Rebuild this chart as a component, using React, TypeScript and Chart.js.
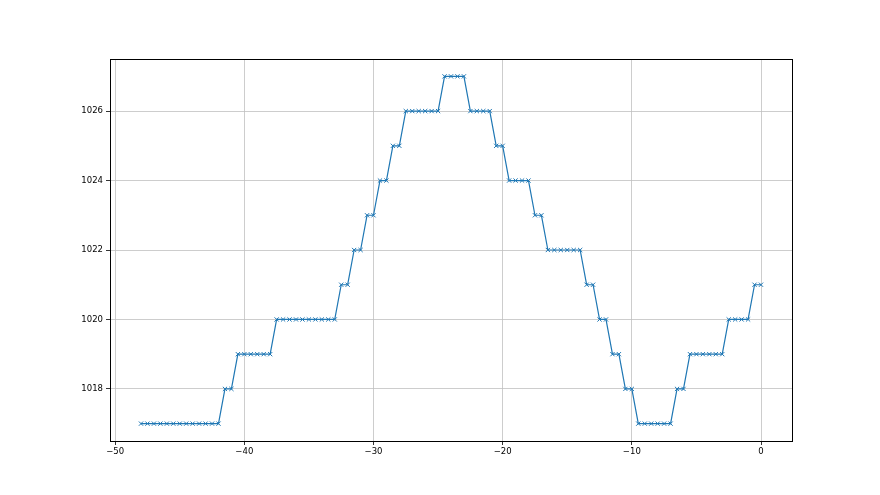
import React, { useEffect, useRef } from "react";
import { Chart, registerables } from "chart.js";

Chart.register(...registerables);

const xValues: number[] = [];
for (let i = 0; i <= 96; i++) xValues.push(-48 + i * 0.5);

const pressure: number[] = [
  1017, 1017, 1017, 1017, 1017, 1017, 1017, 1017, 1017, 1017, 1017, 1017, 1017,
  1018, 1018,
  1019, 1019, 1019, 1019, 1019, 1019,
  1020, 1020, 1020, 1020, 1020, 1020, 1020, 1020, 1020, 1020,
  1021, 1021,
  1022, 1022,
  1023, 1023,
  1024, 1024,
  1025, 1025,
  1026, 1026, 1026, 1026, 1026, 1026,
  1027, 1027, 1027, 1027,
  1026, 1026, 1026, 1026,
  1025, 1025,
  1024, 1024, 1024, 1024,
  1023, 1023,
  1022, 1022, 1022, 1022, 1022, 1022,
  1021, 1021,
  1020, 1020,
  1019, 1019,
  1018, 1018,
  1017, 1017, 1017, 1017, 1017, 1017,
  1018, 1018,
  1019, 1019, 1019, 1019, 1019, 1019,
  1020, 1020, 1020, 1020,
  1021, 1021,
];

const xTicks = [-50, -40, -30, -20, -10, 0];
const yTicks = [1018, 1020, 1022, 1024, 1026];

const framePlugin = {
  id: "frame",
  afterDraw(chart: any) {
    const { ctx, chartArea } = chart;
    ctx.save();
    ctx.strokeStyle = "#000";
    ctx.lineWidth = 1;
    ctx.strokeRect(
      Math.round(chartArea.left) + 0.5,
      Math.round(chartArea.top) + 0.5,
      Math.round(chartArea.right - chartArea.left),
      Math.round(chartArea.bottom - chartArea.top)
    );
    ctx.restore();
  },
};

export default function App() {
  const ref = useRef<HTMLCanvasElement>(null);
  useEffect(() => {
    if (!ref.current) return;
    const chart = new Chart(ref.current, {
      type: "line",
      data: {
        datasets: [
          {
            data: xValues.map((x, i) => ({ x, y: pressure[i] })),
            borderColor: "#1f77b4",
            backgroundColor: "#1f77b4",
            borderWidth: 1.2,
            pointStyle: "crossRot",
            pointRadius: 3,
            pointBorderWidth: 1,
            pointBorderColor: "#1f77b4",
            tension: 0,
            fill: false,
          },
        ],
      },
      options: {
        responsive: false,
        animation: false,
        layout: { padding: { left: 0, top: 59, right: 88, bottom: 0 } },
        plugins: { legend: { display: false }, tooltip: { enabled: false } },
        scales: {
          x: {
            type: "linear",
            min: -50.4,
            max: 2.4,
            afterBuildTicks: (s: any) => {
              s.ticks = xTicks.map((v) => ({ value: v }));
            },
            afterFit: (s: any) => {
              s.height = 54;
            },
            grid: {
              color: "#c0c0c0",
              lineWidth: 0.8,
              tickColor: "#000",
              tickLength: 4,
              drawTicks: true,
            },
            border: { display: false },
            ticks: {
              color: "#000",
              font: { family: "DejaVu Sans", size: 8.5 },
              padding: 2,
              maxRotation: 0,
              callback: (v: any) => (Number(v) < 0 ? "\u2212" + Math.abs(Number(v)) : String(v)),
            },
          },
          y: {
            type: "linear",
            min: 1016.5,
            max: 1027.5,
            afterBuildTicks: (s: any) => {
              s.ticks = yTicks.map((v) => ({ value: v }));
            },
            afterFit: (s: any) => {
              s.width = 110;
            },
            grid: {
              color: "#c0c0c0",
              lineWidth: 0.8,
              tickColor: "#000",
              tickLength: 4,
              drawTicks: true,
            },
            border: { display: false },
            ticks: {
              color: "#000",
              font: { family: "DejaVu Sans", size: 8.5 },
              padding: 3,
              callback: (v: any) => String(v),
            },
          },
        },
      },
      plugins: [framePlugin],
    });
    return () => chart.destroy();
  }, []);
  return (
    <canvas
      ref={ref}
      width={880}
      height={495}
      style={{ position: "fixed", left: 0, top: 0, width: 880, height: 495, background: "#fff" }}
    />
  );
}
